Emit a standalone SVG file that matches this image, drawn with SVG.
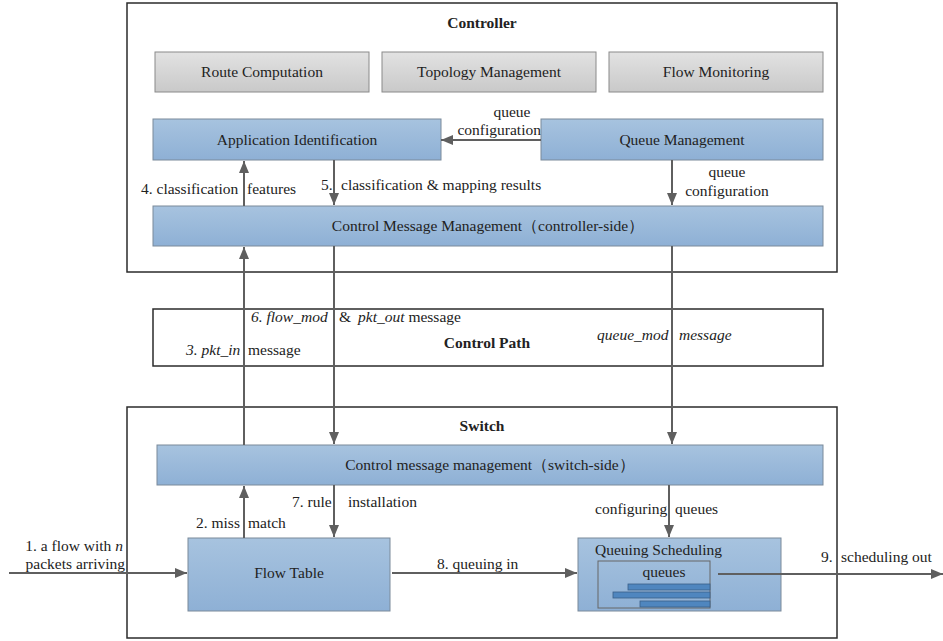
<svg xmlns="http://www.w3.org/2000/svg" width="943" height="641" viewBox="0 0 943 641">
<defs>
<linearGradient id="blue" x1="0" y1="0" x2="0" y2="1"><stop offset="0" stop-color="#a7c3df"/><stop offset="1" stop-color="#8eb0d5"/></linearGradient>
<linearGradient id="gray" x1="0" y1="0" x2="0" y2="1"><stop offset="0" stop-color="#e2e2e2"/><stop offset="1" stop-color="#c9c9c9"/></linearGradient>
<marker id="ah" viewBox="0 0 12 10" refX="12" refY="5" markerWidth="12" markerHeight="10" markerUnits="userSpaceOnUse" orient="auto"><path d="M0,0 L12,5 L0,10 z" fill="#5f5f5f"/></marker>
<style>
text{font-family:"Liberation Serif","Times New Roman",serif;font-size:15.5px;fill:#222}
.b{font-weight:bold}
.i{font-style:italic}
.frame{fill:#fff;stroke:#2b2b2b;stroke-width:1.5}
.bl{fill:url(#blue);stroke:#7a8a9a;stroke-width:1}
.gr{fill:url(#gray);stroke:#8a8a8a;stroke-width:1}
.c{stroke:#5f5f5f;stroke-width:2;fill:none}
.bar{fill:#4f86bf;stroke:#3a5f88;stroke-width:0.8}
</style>
</defs>
<rect width="943" height="641" fill="#fff"/>
<g id="controller"><rect class="frame" x="127" y="3" width="710" height="269"/><text class="b" x="482" y="28" text-anchor="middle">Controller</text></g>
<g id="route"><rect class="gr" x="155" y="52" width="214" height="40"/><text x="262" y="77" text-anchor="middle">Route Computation</text></g>
<g id="topology"><rect class="gr" x="382" y="52" width="214" height="40"/><text x="489" y="77" text-anchor="middle">Topology Management</text></g>
<g id="monitor"><rect class="gr" x="609" y="52" width="214" height="40"/><text x="716" y="77" text-anchor="middle">Flow Monitoring</text></g>
<g id="appid"><rect class="bl" x="153" y="119" width="288" height="41"/><text x="297" y="145" text-anchor="middle">Application Identification</text></g>
<g id="queuemgmt"><rect class="bl" x="541" y="119" width="282" height="41"/><text x="682" y="145" text-anchor="middle">Queue Management</text></g>
<g id="cmmc"><rect class="bl" x="153" y="206" width="670" height="40"/><text x="488" y="231" text-anchor="middle">Control Message Management（controller-side）</text></g>
<g id="cpath"><rect class="frame" x="153" y="309" width="670" height="57"/><text class="b" x="487" y="348" text-anchor="middle">Control Path</text></g>
<g id="switch"><rect class="frame" x="127" y="407" width="710" height="231"/><text class="b" x="482" y="431" text-anchor="middle">Switch</text></g>
<g id="cmms"><rect class="bl" x="157" y="445" width="666" height="40"/><text x="490" y="470" text-anchor="middle">Control message management（switch-side）</text></g>
<g id="flowtable"><rect class="bl" x="188" y="538" width="202" height="73"/><text x="289" y="578" text-anchor="middle">Flow Table</text></g>
<g id="qsched"><rect class="bl" x="578" y="538" width="203" height="73"/><text x="595" y="555">Queuing Scheduling</text>
<rect x="598" y="561" width="112" height="47" fill="none" stroke="#666" stroke-width="1"/><text x="664" y="577" text-anchor="middle">queues</text>
<rect class="bar" x="628" y="584" width="82" height="6"/><rect class="bar" x="613" y="592" width="97" height="6"/><rect class="bar" x="640" y="601" width="70" height="6"/></g>
<g id="connectors">
<line class="c" x1="541" y1="140" x2="441" y2="140" marker-end="url(#ah)"/>
<line class="c" x1="244" y1="206" x2="244" y2="161" marker-end="url(#ah)"/>
<line class="c" x1="334" y1="160" x2="334" y2="205" marker-end="url(#ah)"/>
<line class="c" x1="672" y1="160" x2="672" y2="205" marker-end="url(#ah)"/>
<line class="c" x1="244" y1="445" x2="244" y2="247" marker-end="url(#ah)"/>
<line class="c" x1="334" y1="246" x2="334" y2="444" marker-end="url(#ah)"/>
<line class="c" x1="672" y1="246" x2="672" y2="444" marker-end="url(#ah)"/>
<line class="c" x1="244" y1="538" x2="244" y2="486" marker-end="url(#ah)"/>
<line class="c" x1="334" y1="485" x2="334" y2="537" marker-end="url(#ah)"/>
<line class="c" x1="669" y1="485" x2="669" y2="537" marker-end="url(#ah)"/>
<line class="c" x1="9" y1="573" x2="187" y2="573" marker-end="url(#ah)"/>
<line class="c" x1="392" y1="573" x2="577" y2="573" marker-end="url(#ah)"/>
<line class="c" x1="718" y1="574" x2="943" y2="574" marker-end="url(#ah)"/>
</g>
<g id="labels">
<text x="512" y="117" text-anchor="middle">queue</text>
<text x="541" y="135" text-anchor="end">configuration</text>
<text x="141" y="194">4. classification<tspan x="247">features</tspan></text>
<text x="321" y="190">5.<tspan x="341">classification &amp; mapping results</tspan></text>
<text x="727" y="177" text-anchor="middle">queue</text>
<text x="727" y="196" text-anchor="middle">configuration</text>
<text x="251" y="322"><tspan class="i">6. flow_mod</tspan><tspan x="339">&amp;</tspan><tspan x="358" class="i">pkt_out</tspan> message</text>
<text x="186" y="355"><tspan class="i">3. pkt_in</tspan><tspan x="248">message</tspan></text>
<text x="597" y="340" class="i">queue_mod<tspan x="679">message</tspan></text>
<text x="292" y="507">7. rule<tspan x="348">installation</tspan></text>
<text x="196" y="528">2. miss<tspan x="248">match</tspan></text>
<text x="595" y="514">configuring<tspan x="675">queues</tspan></text>
<text x="123" y="551" text-anchor="end">1. a flow with <tspan class="i">n</tspan></text>
<text x="125" y="569" text-anchor="end">packets arriving</text>
<text x="437" y="569">8. queuing in</text>
<text x="821" y="562">9.<tspan x="841">scheduling out</tspan></text>
</g>
</svg>
